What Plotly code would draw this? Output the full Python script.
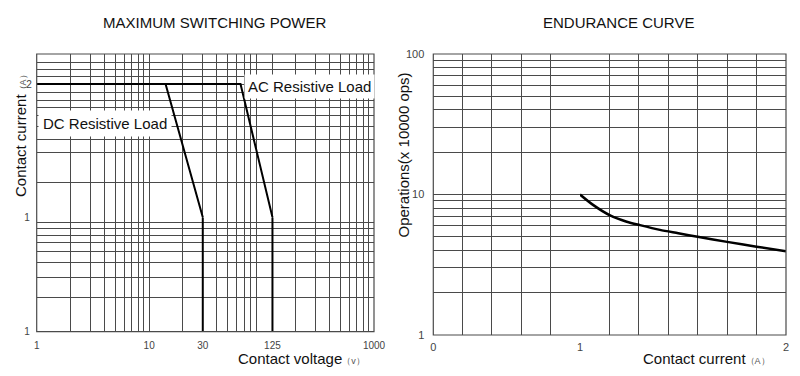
import plotly.graph_objects as go

# ---------------- data ----------------
# Maximum switching power (left chart)
dc_voltage = [1, 14, 30, 30]
dc_current = [2, 2, 1, 0.1]
ac_voltage = [1, 65, 125, 125]
ac_current = [2, 2, 1, 0.1]

voltage_ticks = [1, 10, 30, 125, 1000]
voltage_tick_labels = ["1", "10", "30", "125", "1000"]
current_ticks_lower = [0.1, 1]
current_tick_labels_lower = ["1", "1"]
current_ticks_upper = [2]
current_tick_labels_upper = ["2"]

# Endurance curve (right chart)
endurance_current = [1.0, 1.065, 1.146, 1.227, 1.291, 1.388, 1.477, 1.571, 1.714, 1.857, 2.0]
endurance_ops = [10, 8.4, 7.1, 6.4, 6.05, 5.6, 5.3, 5.0, 4.6, 4.25, 3.95]

ops_ticks = [1, 10, 100]
ops_tick_labels = ["1", "10", "100"]
cur_ticks_a = [0, 1]
cur_tick_labels_a = ["0", "1"]
cur_ticks_b = [2]
cur_tick_labels_b = ["2"]

# ---------------- layout helpers ----------------
# the page body has an 8px margin, so the figure starts at (8, 8) in the window
OFF = 8
W, H = 800 - OFF, 376 - OFF
def fx(p):
    return (p - OFF) / W
def fy(p):
    return 1 - (p - OFF) / H

GRID = "#4a4a4a"
FONT = "Liberation Sans, Arial, sans-serif"
TICKFONT = dict(family=FONT, size=10, color="#444")
TICKFONT_R = dict(family=FONT, size=11, color="#444")

log_minor = [m * 10 ** k for k in range(0, 3) for m in range(2, 10)]
upper_minor = [1.2, 1.4, 1.5, 1.6, 1.7, 1.77, 1.84, 1.91, 2.08, 2.16, 2.24]
lower_minor = [m / 10 for m in range(2, 10)]
ops_minor = [m * 10 ** k for k in range(0, 2) for m in range(2, 10)]
cur_minor_a = [0.2, 0.4, 0.6, 0.8]
cur_minor_b = [1 + k / 7 for k in range(1, 7)]


def split(v, c):
    up = [(a, b) for a, b in zip(v, c) if b >= 1]
    lo = [(a, b) for a, b in zip(v, c) if b <= 1]
    return up, lo


fig = go.Figure()
line_style = dict(color="black", width=2)
for v, c in [(dc_voltage, dc_current), (ac_voltage, ac_current)]:
    up, lo = split(v, c)
    fig.add_trace(go.Scatter(x=[p[0] for p in up], y=[p[1] for p in up], mode="lines",
                             line=line_style, xaxis="x", yaxis="y2", showlegend=False,
                             cliponaxis=False))
    fig.add_trace(go.Scatter(x=[p[0] for p in lo], y=[p[1] for p in lo], mode="lines",
                             line=line_style, xaxis="x", yaxis="y", showlegend=False,
                             cliponaxis=False))

fig.add_trace(go.Scatter(x=[], y=[], xaxis="x3", yaxis="y3", showlegend=False))
fig.add_trace(go.Scatter(x=endurance_current, y=endurance_ops, mode="lines",
                         line=dict(color="black", width=2.5, shape="spline", smoothing=0.8),
                         xaxis="x4", yaxis="y3", showlegend=False))


def grid_minor(vals):
    return dict(tickvals=vals, showgrid=True, gridcolor=GRID, gridwidth=1, ticks="")


common = dict(showgrid=True, gridcolor=GRID, gridwidth=1, showline=False,
              zeroline=False, ticks="", tickmode="array", automargin=False)

xl0, xl1 = 36.7, 374
yb, ysplit, yt = 331.7, 217.3, 54
xr0, xrsplit, xr1 = 433.3, 580, 786
yrb, yrt = 335, 54

fig.update_layout(
    width=W, height=H, margin=dict(l=0, r=0, t=0, b=0, pad=0, autoexpand=False),
    paper_bgcolor="white", plot_bgcolor="white",
    xaxis=dict(type="log", range=[0, 3], domain=[fx(xl0), fx(xl1)], anchor="y",
               tickvals=voltage_ticks, ticktext=voltage_tick_labels, tickfont=TICKFONT,
               ticklabelstandoff=6, minor=grid_minor(log_minor), **common),
    yaxis=dict(type="log", range=[-1, 0], domain=[fy(yb), fy(ysplit)], anchor="x",
               tickvals=current_ticks_lower, ticktext=current_tick_labels_lower, tickfont=TICKFONT,
               ticklabelstandoff=6, minor=grid_minor(lower_minor), **common),
    yaxis2=dict(type="log", range=[0, 0.369], domain=[fy(ysplit), fy(yt)], anchor="x",
                tickvals=current_ticks_upper, ticktext=current_tick_labels_upper, tickfont=TICKFONT,
                ticklabelstandoff=4, minor=grid_minor(upper_minor), **common),
    xaxis3=dict(type="linear", range=[0, 1], domain=[fx(xr0), fx(xrsplit)], anchor="y3",
                tickvals=cur_ticks_a, ticktext=cur_tick_labels_a, tickfont=TICKFONT_R,
                ticklabelstandoff=4, minor=grid_minor(cur_minor_a), **common),
    xaxis4=dict(type="linear", range=[1, 2], domain=[fx(xrsplit), fx(xr1)], anchor="y3",
                tickvals=cur_ticks_b, ticktext=cur_tick_labels_b, tickfont=TICKFONT_R,
                ticklabelstandoff=4, minor=grid_minor(cur_minor_b), **common),
    yaxis3=dict(type="log", range=[0, 2], domain=[fy(yrb), fy(yrt)], anchor="x3",
                tickvals=ops_ticks, ticktext=ops_tick_labels, tickfont=TICKFONT_R,
                ticklabelstandoff=8, minor=grid_minor(ops_minor), **common),
)

# plot frames
frame = dict(type="rect", xref="paper", yref="paper", line=dict(color=GRID, width=1.2),
             fillcolor="rgba(0,0,0,0)", layer="above")
fig.add_shape(x0=fx(xl0), x1=fx(xl1), y0=fy(yb), y1=fy(yt), **frame)
fig.add_shape(x0=fx(xr0), x1=fx(xr1), y0=fy(yrb), y1=fy(yrt), **frame)

ann_font = dict(family=FONT, size=15, color="#111")
annotations = [
    dict(text="MAXIMUM SWITCHING POWER", x=fx(214), y=fy(22.5), xanchor="center", yanchor="middle",
         font=ann_font),
    dict(text="ENDURANCE CURVE", x=fx(618.7), y=fy(22), xanchor="center", yanchor="middle",
         font=ann_font),
    dict(text="DC Resistive Load", x=fx(38), y=fy(123.3), xanchor="left", yanchor="middle",
         font=ann_font, bgcolor="white", borderpad=4),
    dict(text="AC Resistive Load", x=fx(244), y=fy(86.7), xanchor="left", yanchor="middle",
         font=ann_font, bgcolor="white", borderpad=3),
    dict(text="Contact current<span style='font-size:9px;color:#555'>（A）</span>",
         x=fx(20), y=fy(134), xanchor="center", yanchor="middle", textangle=-90, font=ann_font),
    dict(text="Contact voltage<span style='font-size:9px;color:#555'>（v）</span>",
         x=fx(236), y=fy(358), xanchor="left", yanchor="middle", font=ann_font),
    dict(text="Operations(x 10000 ops)", x=fx(403), y=fy(155.5), xanchor="center", yanchor="middle",
         textangle=-90, font=ann_font),
    dict(text="Contact current<span style='font-size:9px;color:#555'>（A）</span>",
         x=fx(641), y=fy(358), xanchor="left", yanchor="middle", font=ann_font),
]
for a in annotations:
    a.update(xref="paper", yref="paper", showarrow=False)
fig.update_layout(annotations=annotations)

fig.write_html("out.html")
